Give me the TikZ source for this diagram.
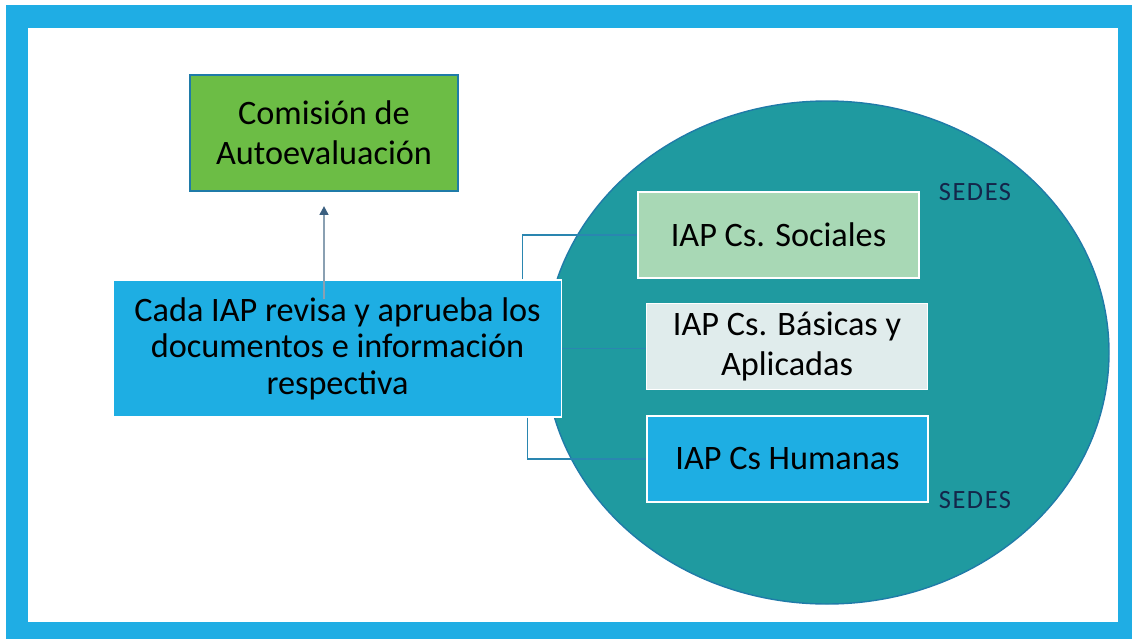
\documentclass[tikz,border=0pt]{standalone}
\usepackage{fontspec}
\setmainfont{Carlito}
\usetikzlibrary{arrows.meta, positioning}

\definecolor{marco}{HTML}{1FADE4}
\definecolor{celeste}{HTML}{1EAEE3}
\definecolor{verde}{HTML}{6CBD45}
\definecolor{verdeclaro}{HTML}{A8D8B5}
\definecolor{grisclaro}{HTML}{E0ECEC}
\definecolor{turquesa}{HTML}{1F9AA0}
\definecolor{borde}{HTML}{1F7BA8}
\definecolor{linea}{HTML}{2A86B0}
\definecolor{marino}{HTML}{14264A}
\definecolor{astil}{HTML}{8AA0B2}
\definecolor{punta}{HTML}{3A5F80}

\begin{document}
\begin{tikzpicture}[
        x=0.02cm, y=-0.02cm,
        font=\fontsize{19.5}{22.7}\selectfont,
        comision/.style={rectangle, draw=borde, line width=1.2pt, fill=verde, minimum width=5.36cm, minimum height=2.32cm, align=center},
        iap/.style={rectangle, draw=white, line width=0.8pt, minimum width=5.62cm, minimum height=1.72cm, align=center},
        central/.style={rectangle, draw=white, line width=0.6pt, fill=celeste, minimum width=8.98cm, minimum height=2.74cm, align=center, font=\fontsize{19.5}{20.7}\selectfont},
        sede/.style={text=marino, font=\fontsize{15}{17}\selectfont\addfontfeatures{LetterSpace=6}},
        conector/.style={draw=linea, line width=0.8pt},
        flecha/.style={-{Triangle[length=5pt, width=5pt, color=punta]}, draw=astil, line width=1.1pt, shorten >=8}
    ]

    % --- MARCO ---
    \useasboundingbox (0,0) rectangle (1132,639);
    \fill[marco] (6,5) rectangle (1132,639);
    \fill[white] (28,28) rectangle (1118,622);

    % --- SEDES ---
    \fill[turquesa, draw=borde, line width=0.8pt] (827,352.5) ellipse [x radius=282, y radius=251.5];
    \node[sede] (sede1) at (975,192) {SEDES};
    \node[sede] (sede2) at (975,500) {SEDES};

    % --- NODOS ---
    \node[comision] (comision) at (324,133) {Comisión de\\Autoevaluación};
    \node[central] (central) at (337.5,348.5) {Cada IAP revisa y aprueba los\\documentos e información\\respectiva};
    \node[iap, fill=verdeclaro] (sociales) at (778.5,235) {IAP Cs. Sociales};
    \node[iap, fill=grisclaro] (basicas) at (787,346.5) {IAP Cs. Básicas y\\Aplicadas};
    \node[iap, fill=celeste] (humanas) at (787.5,459) {IAP Cs Humanas};

    % --- CONECTORES ---
    \draw[flecha] ([yshift=-0.4cm]comision.south |- central.north) -- (comision.south);
    \draw[conector] ([xshift=-0.8cm]central.north east) |- (sociales.west);
    \draw[conector] (central.east) -- (basicas.west |- central.east);
    \draw[conector] ([xshift=-0.7cm]central.south east) |- (humanas.west);

    \end{tikzpicture}
\end{document}
